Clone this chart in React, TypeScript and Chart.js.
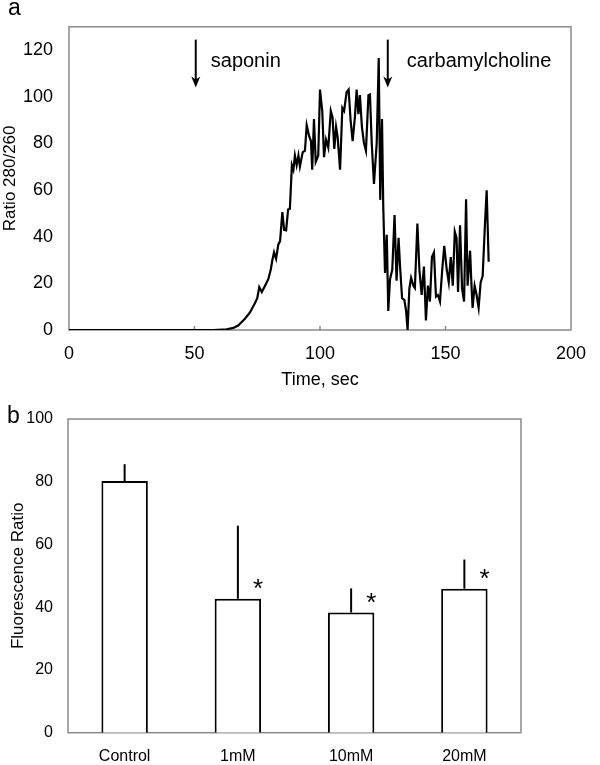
import React, { useEffect, useRef } from "react";
import { Chart, registerables } from "chart.js";

Chart.register(...registerables);

// ---------- Panel a: time course ----------
const timeSec = [
  0, 57.5, 62.8, 65.5, 67.5, 68.4, 70.1, 72.1, 74.1, 75.0,
  75.8, 76.8, 78.1, 79.4, 80.4, 81.0, 81.7, 82.5, 83.4, 84.1,
  85.0, 85.7, 86.5, 87.3, 88.0, 88.8, 89.4, 90.0, 90.7, 91.4,
  92.0, 93.1, 94.0, 94.7, 95.7, 96.4, 96.9, 97.6, 98.3, 99.3,
  100.0, 100.9, 101.6, 102.4, 103.3, 104.3, 105.0, 105.7, 106.4, 107.0,
  108.0, 108.9, 109.6, 110.6, 111.4, 112.2, 113.0, 113.9, 114.6, 115.3,
  115.9, 116.7, 117.5, 118.3, 119.3, 119.9, 120.6, 121.5, 122.6, 123.4,
  124.0, 124.7, 125.2, 125.9, 126.6, 127.2, 127.9, 128.8, 129.7, 130.5,
  131.3, 131.9, 132.7, 133.6, 134.3, 134.9, 135.6, 136.3, 137.2, 137.8,
  138.8, 139.6, 140.5, 141.4, 142.2, 143.0, 143.8, 144.6, 145.4, 146.2,
  147.0, 147.8, 148.7, 149.5, 150.5, 151.3, 152.1, 152.9, 153.7, 154.4,
  155.0, 155.8, 156.6, 157.4, 158.2, 158.8, 159.8, 160.3, 160.8, 161.6,
  162.4, 163.2, 164.0, 164.8, 165.7, 166.4, 167.2,
];
const ratio280260 = [
  0, 0, 0.3, 0.9, 2.0, 3.0, 4.8, 7.5, 11.6, 13.6,
  18.4, 16.3, 19.0, 21.8, 25.9, 29.9, 33.3, 30.6, 36.7, 38.1,
  50.6, 42.9, 42.7, 51.7, 52.0, 70.7, 68.7, 74.8, 70.7, 74.8,
  70.1, 76.2, 76.9, 87.8, 83.0, 81.0, 68.7, 90.5, 72.1, 74.8,
  103.1, 93.9, 74.1, 81.6, 78.2, 93.9, 91.2, 77.6, 87.1, 83.0,
  68.7, 95.2, 93.9, 102.0, 103.1, 89.8, 81.0, 91.2, 103.1, 92.5,
  100.7, 87.1, 80.3, 76.9, 100.7, 101.0, 80.3, 62.6, 80.3, 116.6,
  55.8, 90.5, 53.1, 24.5, 40.8, 8.2, 21.8, 25.9, 49.3, 21.1,
  39.5, 27.2, 13.6, 12.9, 8.2, 0, 17.7, 22.4, 19.0, 18.0,
  45.6, 25.9, 15.0, 27.2, 4.1, 19.0, 12.2, 31.3, 33.3, 14.3,
  15.0, 12.2, 25.9, 36.1, 25.9, 20.4, 31.3, 19.0, 42.2, 39.5,
  16.3, 44.9, 17.7, 12.2, 56.0, 19.0, 34.0, 20.4, 9.5, 19.0,
  15.0, 9.5, 20.4, 23.1, 44.9, 59.9, 29.3,
];
const xTicksTop = [0, 50, 100, 150, 200];
const yTicksTop = [0, 20, 40, 60, 80, 100, 120];
const arrowTimes = [50.5, 127];
const arrowLabels = ["saponin", "carbamylcholine"];

// ---------- Panel b: bars ----------
const categories = ["Control", "1mM", "10mM", "20mM"];
const fluorescence = [80.2, 42.7, 38.3, 45.9];
const errorUp = [5.4, 23.3, 7.7, 9.3];
const significant = [false, true, true, true];
const yTicksBottom = [0, 20, 40, 60, 80, 100];

const FONT = "'Liberation Sans', Arial, Helvetica, sans-serif";
const FRAME = "#8a8a8a";

function topConfig(): any {
  const decor = {
    id: "topDecor",
    beforeDatasetsDraw(chart: any) {
      const { ctx, chartArea: a, scales } = chart;
      ctx.save();
      ctx.strokeStyle = FRAME;
      ctx.lineWidth = 1.5;
      ctx.strokeRect(a.left, a.top, a.right - a.left, a.bottom - a.top);
      xTicksTop.slice(1, -1).forEach((v) => {
        const x = scales.x.getPixelForValue(v);
        ctx.beginPath();
        ctx.moveTo(x, a.bottom);
        ctx.lineTo(x, a.bottom - 4);
        ctx.stroke();
      });
      ctx.restore();
    },
    afterDraw(chart: any) {
      const { ctx, scales } = chart;
      ctx.save();
      ctx.strokeStyle = "#000";
      ctx.fillStyle = "#000";
      ctx.lineWidth = 2;
      arrowTimes.forEach((t, i) => {
        const x = scales.x.getPixelForValue(t);
        const yTop = scales.y.getPixelForValue(124.5);
        const yBot = scales.y.getPixelForValue(104);
        ctx.beginPath();
        ctx.moveTo(x, yTop);
        ctx.lineTo(x, yBot - 6);
        ctx.stroke();
        ctx.beginPath();
        ctx.moveTo(x, yBot);
        ctx.lineTo(x - 4.5, yBot - 11);
        ctx.lineTo(x, yBot - 8);
        ctx.lineTo(x + 4.5, yBot - 11);
        ctx.closePath();
        ctx.fill();
        ctx.font = `20px ${FONT}`;
        ctx.textAlign = "left";
        ctx.textBaseline = "alphabetic";
        ctx.fillText(arrowLabels[i], x + (i === 0 ? 15 : 19), scales.y.getPixelForValue(112.7));
      });
      ctx.font = `23px ${FONT}`;
      ctx.fillText("a", 8, 15);
      ctx.restore();
    },
  };
  return {
    type: "line",
    data: {
      datasets: [
        {
          data: timeSec.map((t, i) => ({ x: t, y: ratio280260[i] })),
          borderColor: "#000",
          borderWidth: 2.2,
          pointRadius: 0,
          tension: 0,
          fill: false,
        },
      ],
    },
    options: {
      animation: false,
      responsive: false,
      devicePixelRatio: 1,
      layout: { padding: { left: 0, top: 12, right: 29, bottom: 0 } },
      plugins: { legend: { display: false }, tooltip: { enabled: false } },
      scales: {
        x: {
          type: "linear",
          min: 0,
          max: 200,
          grid: { display: false, drawTicks: false },
          border: { display: false },
          afterBuildTicks: (s: any) => {
            s.ticks = xTicksTop.map((v) => ({ value: v }));
          },
          afterFit: (s: any) => {
            s.height = 62;
          },
          ticks: { color: "#000", font: { family: FONT, size: 18 }, padding: 13, maxRotation: 0 },
          title: {
            display: true,
            text: "Time, sec",
            color: "#000",
            font: { family: FONT, size: 18 },
            padding: { top: 0, bottom: 1 },
          },
        },
        y: {
          min: 0,
          max: 130,
          grid: { display: false, drawTicks: false },
          border: { display: false },
          afterBuildTicks: (s: any) => {
            s.ticks = yTicksTop.map((v) => ({ value: v }));
          },
          afterFit: (s: any) => {
            s.width = 69;
          },
          ticks: { color: "#000", font: { family: FONT, size: 18 }, padding: 16 },
          title: {
            display: true,
            text: "Ratio 280/260",
            color: "#000",
            font: { family: FONT, size: 17 },
            padding: { top: 0, bottom: 0 },
          },
        },
      },
    },
    plugins: [decor],
  };
}

function bottomConfig(): any {
  const decor = {
    id: "bottomDecor",
    beforeDatasetsDraw(chart: any) {
      const { ctx, chartArea: a } = chart;
      ctx.save();
      ctx.strokeStyle = FRAME;
      ctx.lineWidth = 1.5;
      ctx.strokeRect(a.left, a.top, a.right - a.left, a.bottom - a.top);
      ctx.restore();
    },
    afterDatasetsDraw(chart: any) {
      const { ctx, scales } = chart;
      const bars = chart.getDatasetMeta(0).data;
      ctx.save();
      ctx.strokeStyle = "#000";
      ctx.fillStyle = "#000";
      ctx.lineWidth = 2;
      bars.forEach((bar: any, i: number) => {
        const top = scales.y.getPixelForValue(fluorescence[i] + errorUp[i]);
        ctx.beginPath();
        ctx.moveTo(bar.x, bar.y);
        ctx.lineTo(bar.x, top);
        ctx.stroke();
        if (significant[i]) {
          const cx = bar.x + bar.width / 2 - 3;
          const cy = scales.y.getPixelForValue(fluorescence[i] + 5.4);
          ctx.font = `26px ${FONT}`;
          ctx.textAlign = "center";
          ctx.textBaseline = "alphabetic";
          ctx.fillText("*", cx, cy + 15);
        }
      });
      ctx.restore();
    },
    afterDraw(chart: any) {
      const { ctx } = chart;
      ctx.save();
      ctx.fillStyle = "#000";
      ctx.font = `23px ${FONT}`;
      ctx.textAlign = "left";
      ctx.textBaseline = "alphabetic";
      ctx.fillText("b", 7, 31);
      ctx.restore();
    },
  };
  return {
    type: "bar",
    data: {
      labels: categories,
      datasets: [
        {
          data: fluorescence,
          backgroundColor: "#fff",
          borderColor: "#000",
          borderWidth: 2,
          barPercentage: 0.41,
          categoryPercentage: 1,
        },
      ],
    },
    options: {
      animation: false,
      responsive: false,
      devicePixelRatio: 1,
      layout: { padding: { left: 0, top: 27, right: 79, bottom: 0 } },
      plugins: { legend: { display: false }, tooltip: { enabled: false } },
      scales: {
        x: {
          grid: { display: false, drawTicks: false },
          border: { display: false },
          afterFit: (s: any) => {
            s.height = 32.3;
          },
          ticks: { color: "#000", font: { family: FONT, size: 16 }, padding: 14, maxRotation: 0 },
        },
        y: {
          min: 0,
          max: 100,
          grid: { display: false, drawTicks: false },
          border: { display: false },
          afterBuildTicks: (s: any) => {
            s.ticks = yTicksBottom.map((v) => ({ value: v }));
          },
          afterFit: (s: any) => {
            s.width = 68;
          },
          ticks: { color: "#000", font: { family: FONT, size: 16 }, padding: 15 },
          title: {
            display: true,
            text: "Fluorescence Ratio",
            color: "#000",
            font: { family: FONT, size: 17 },
            padding: { top: 8, bottom: 0 },
          },
        },
      },
    },
    plugins: [decor],
  };
}

export default function App() {
  const topRef = useRef<HTMLCanvasElement>(null);
  const bottomRef = useRef<HTMLCanvasElement>(null);
  useEffect(() => {
    const c1 = new Chart(topRef.current as HTMLCanvasElement, topConfig());
    const c2 = new Chart(bottomRef.current as HTMLCanvasElement, bottomConfig());
    return () => {
      c1.destroy();
      c2.destroy();
    };
  }, []);
  return (
    <div style={{ position: "absolute", left: 0, top: 0, width: 600, height: 765, background: "#fff" }}>
      <canvas
        ref={topRef}
        width={600}
        height={392}
        style={{ position: "absolute", left: 0, top: 0, width: 600, height: 392, display: "block" }}
      />
      <canvas
        ref={bottomRef}
        width={600}
        height={373}
        style={{ position: "absolute", left: 0, top: 392, width: 600, height: 373, display: "block" }}
      />
    </div>
  );
}
